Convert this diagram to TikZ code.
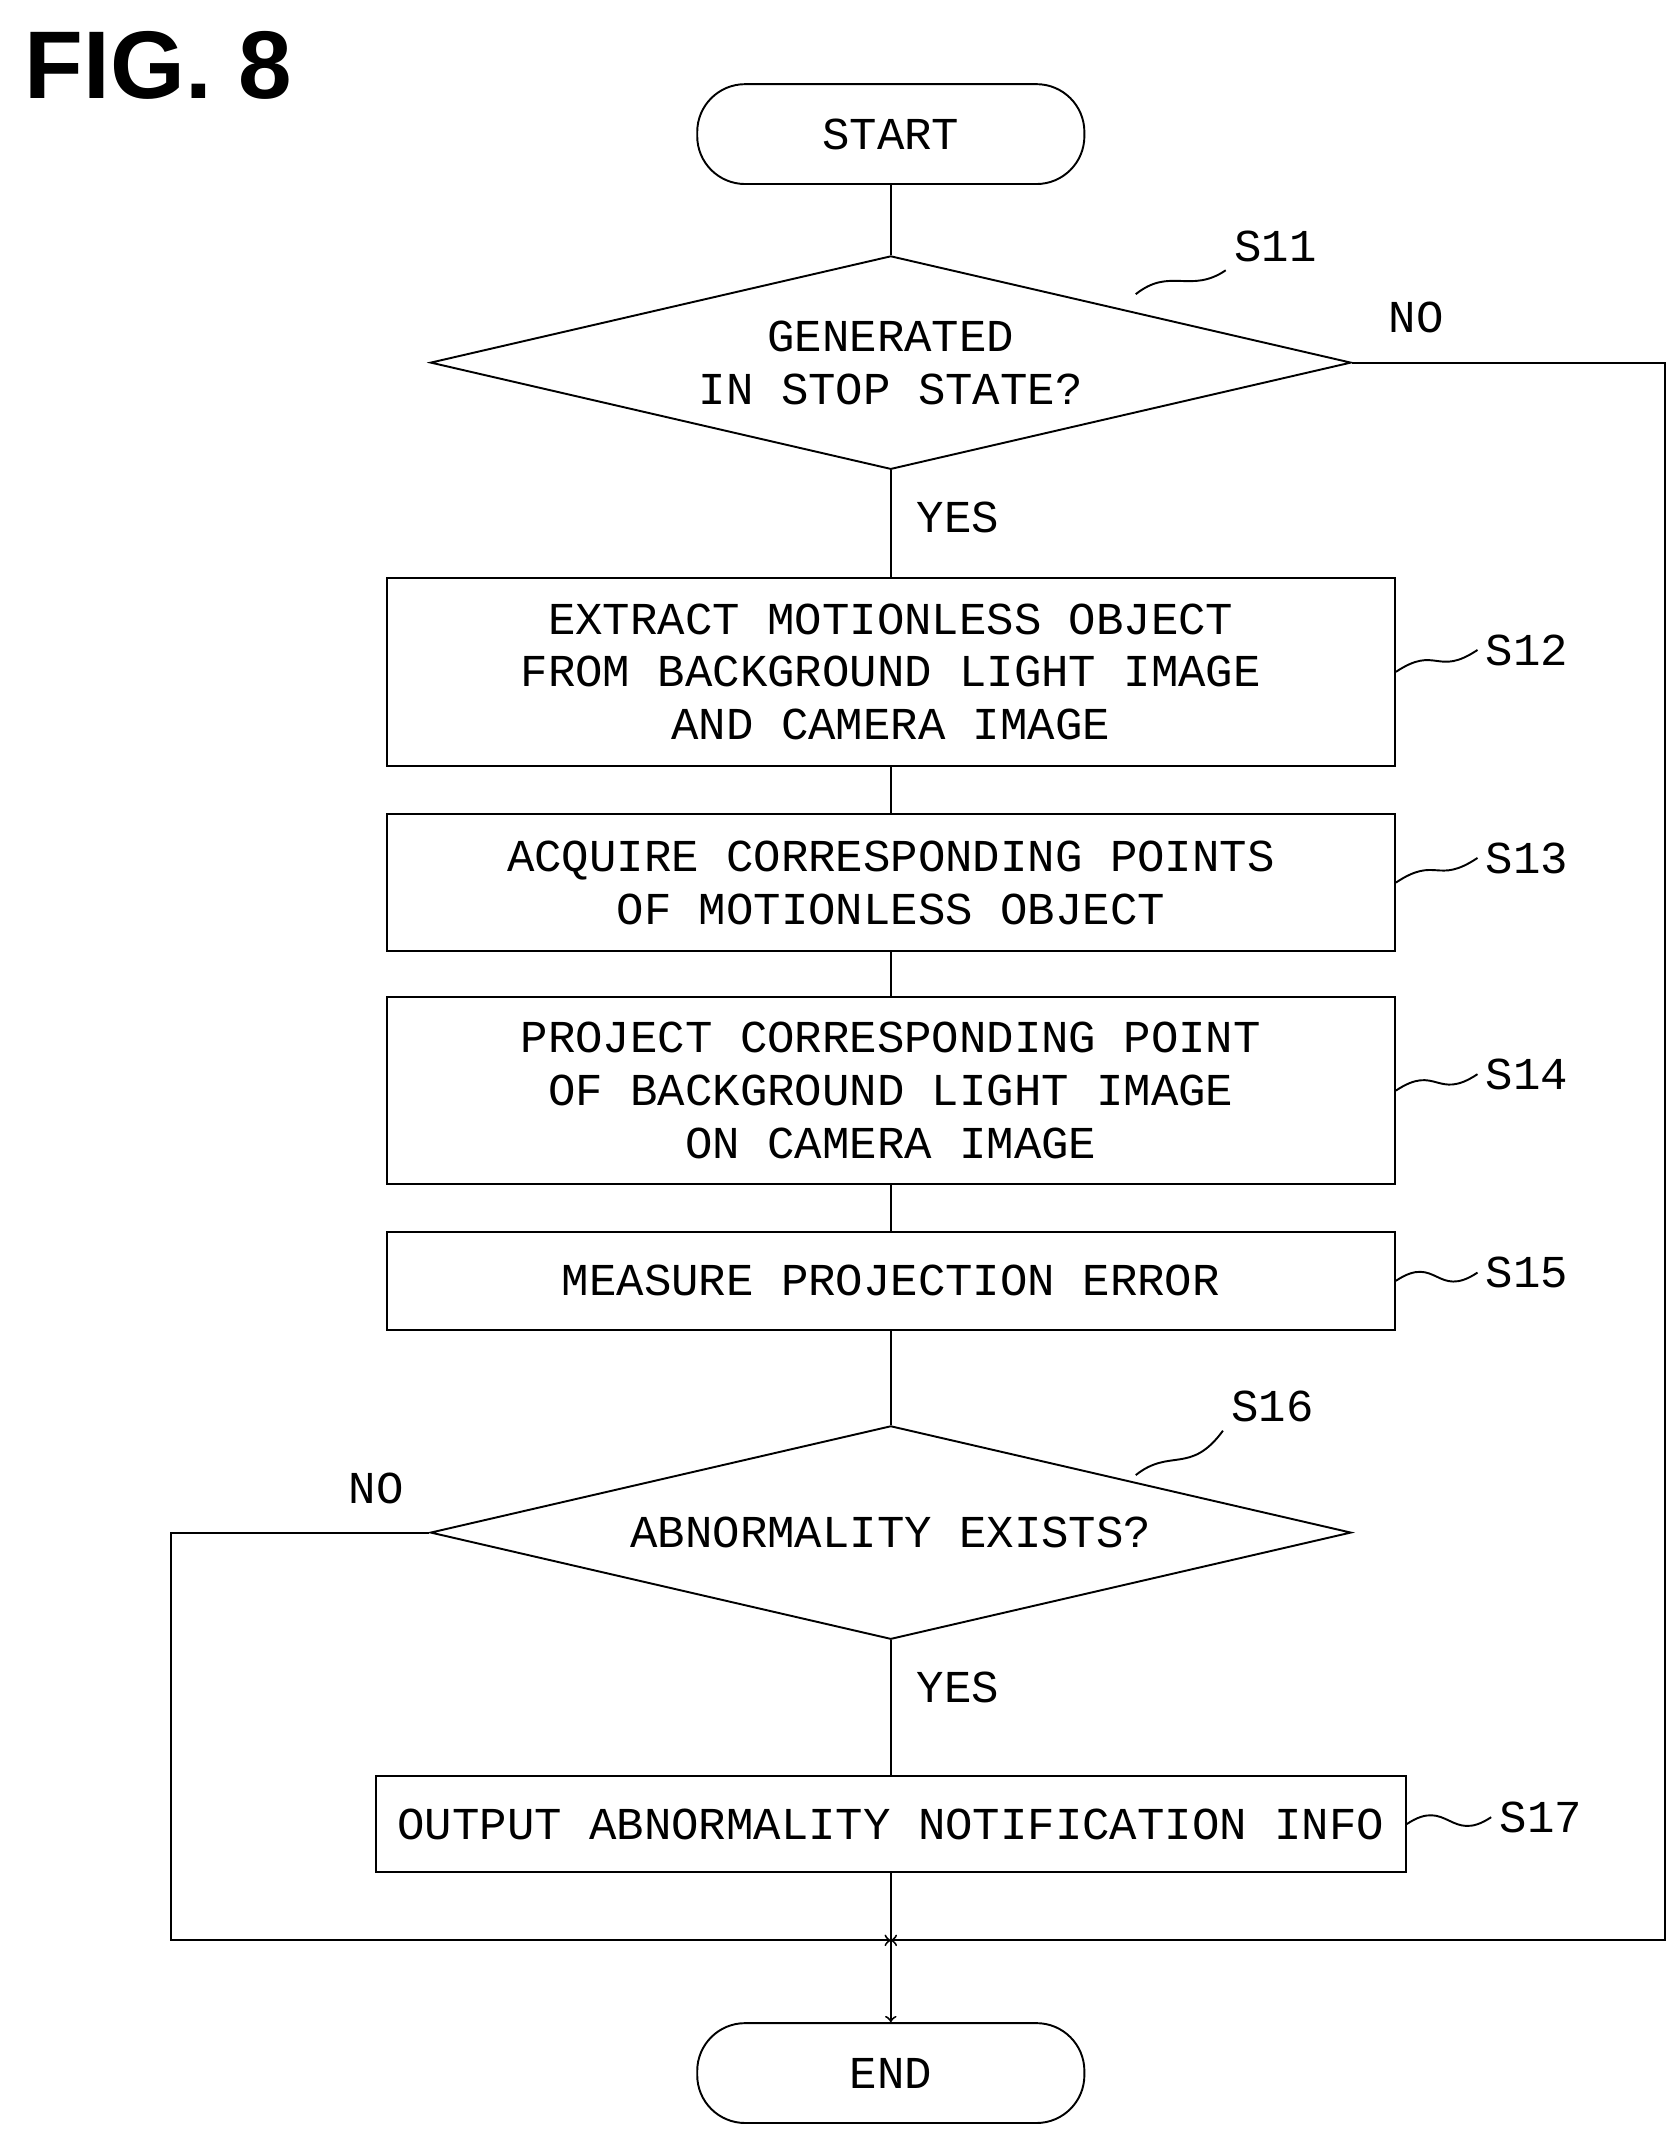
\documentclass[tikz,border=0pt]{standalone}
\usepackage{fontspec}
\setmainfont{Liberation Mono}
\newfontfamily\figfont{Liberation Sans}
\usetikzlibrary{shapes.geometric,positioning}
\tikzset{
    box/.style={draw, thick, rectangle, inner sep=0pt, font=\fontsize{19}{22}\selectfont, align=center},
    term/.style={draw, thick, rectangle, rounded corners=0.7cm, minimum width=5.66cm, minimum height=1.46cm, font=\fontsize{19}{22}\selectfont},
    dec/.style={draw, thick, diamond, aspect=4.3, inner sep=0pt, minimum width=13.46cm, minimum height=3.12cm, font=\fontsize{19}{22}\selectfont, align=center},
    lbl/.style={font=\fontsize{19}{22}\selectfont},
    lead/.style={thick}
}
\begin{document}
\begin{tikzpicture}[x=0.02cm, y=-0.02cm]
            \useasboundingbox (0,0) rectangle (1226,1561);
            \node[anchor=west, font=\figfont\bfseries\fontsize{40}{44}\selectfont] (fig) at (12,48) {FIG. 8};

            \node[term] (start) at (651,98) {START};
            \node[dec] (s11) at (651,265) {GENERATED\\IN STOP STATE?};
            \node[box, minimum width=14.74cm, minimum height=2.74cm] (s12) at (651,491) {EXTRACT MOTIONLESS OBJECT\\FROM BACKGROUND LIGHT IMAGE\\AND CAMERA IMAGE};
            \node[box, minimum width=14.74cm, minimum height=2cm] (s13) at (651,645) {ACQUIRE CORRESPONDING POINTS\\OF MOTIONLESS OBJECT};
            \node[box, minimum width=14.74cm, minimum height=2.74cm] (s14) at (651,797) {PROJECT CORRESPONDING POINT\\OF BACKGROUND LIGHT IMAGE\\ON CAMERA IMAGE};
            \node[box, minimum width=14.74cm, minimum height=1.44cm] (s15) at (651,936) {MEASURE PROJECTION ERROR};
            \node[dec] (s16) at (651,1120) {ABNORMALITY EXISTS?};
            \node[box, minimum width=15.06cm, minimum height=1.4cm] (s17) at (651,1333) {OUTPUT ABNORMALITY NOTIFICATION INFO};
            \node[term] (end) at (651,1515) {END};

            \coordinate (join) at (651,1418);
            \coordinate (r11) at (1217,265);
            \coordinate (l16) at (125,1120);

            \node[lbl] (l11) at (932,180) {S11};
            \node[lbl] (l12) at (1116,475) {S12};
            \node[lbl] (l13) at (1116,627) {S13};
            \node[lbl] (l14) at (1116,785) {S14};
            \node[lbl] (l15) at (1116,930) {S15};
            \node[lbl] (l16t) at (930,1028) {S16};
            \node[lbl] (l17) at (1126,1328) {S17};

            \node[lbl] (no11) at (1035,232) {NO};
            \node[lbl] (yes11) at (700,378) {YES};
            \node[lbl] (no16) at (275,1088) {NO};
            \node[lbl] (yes16) at (700,1233) {YES};

            \draw[thick] (start)--(s11);
            \draw[thick] (s11)--(s12);
            \draw[thick] (s12)--(s13);
            \draw[thick] (s13)--(s14);
            \draw[thick] (s14)--(s15);
            \draw[thick] (s15)--(s16);
            \draw[thick] (s16)--(s17);
            \draw[thick] (s17)--(join);
            \draw[->, thick] (join)--(end);
            \draw[->, thick] (s11.east)--(r11)|-(join);
            \draw[->, thick] (s16.west)--(l16)|-(join);

            \draw[lead] (830,215) .. controls (855,195) and (870,215) .. (l11.south west);
            \draw[lead] (s12.east) .. controls +(30,-20) and +(-30,20) .. (l12.west);
            \draw[lead] (s13.east) .. controls +(30,-20) and +(-30,20) .. (l13.west);
            \draw[lead] (s14.east) .. controls +(30,-20) and +(-30,20) .. (l14.west);
            \draw[lead] (s15.east) .. controls +(30,-20) and +(-30,20) .. (l15.west);
            \draw[lead] (830,1078) .. controls (855,1058) and (870,1078) .. (l16t.south west);
            \draw[lead] (s17.east) .. controls +(30,-20) and +(-30,20) .. (l17.west);
\end{tikzpicture}
\end{document}
